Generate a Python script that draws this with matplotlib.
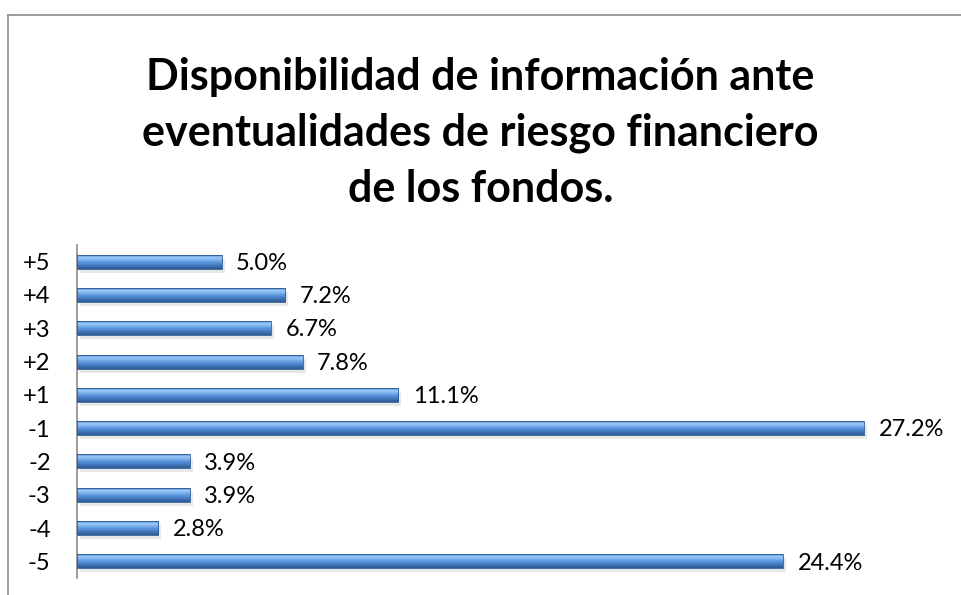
import matplotlib.pyplot as plt
from matplotlib.patches import Rectangle
from matplotlib.lines import Line2D
from matplotlib.colors import LinearSegmentedColormap
import numpy as np

# datos
categorias = ["+5", "+4", "+3", "+2", "+1", "-1", "-2", "-3", "-4", "-5"]
porcentajes = [5.0, 7.2, 6.7, 7.8, 11.1, 27.2, 3.9, 3.9, 2.8, 24.4]
titulo = "Disponibilidad de información ante\neventualidades de riesgo financiero\nde los fondos."

plt.rcParams['font.family'] = ['Lato', 'DejaVu Sans']

fig = plt.figure(figsize=(9.61, 5.95), dpi=100)
W, H = 961, 595

# marco del grafico (sale de la imagen por la derecha y abajo)
fig.add_artist(Line2D([8 / W, 8 / W], [0, 1 - 15 / H], color='#8c8c8c', lw=1.2))
fig.add_artist(Line2D([8 / W, 1], [1 - 15 / H, 1 - 15 / H], color='#8c8c8c', lw=1.2))

fig.text(0.5, 1 - 133 / H, titulo, ha='center', va='center', fontsize=31,
         fontweight='bold', linespacing=1.48)

ax = fig.add_axes([77 / W, 17 / H, 868 / W, 333 / H])
n = len(categorias)
y = np.arange(n)[::-1]

alto = 0.42
# gradiente vertical del relleno
grad = np.linspace(0, 1, 64).reshape(-1, 1)
cmap = LinearSegmentedColormap.from_list(
    'azul', ['#4a80c4', '#9ccaf8', '#80b5ee', '#5e98dc', '#4a84cc', '#3a6cad', '#2d5a92'])

for yi, v in zip(y, porcentajes):
    # sombra
    ax.add_patch(Rectangle((0.1, yi - alto / 2 - 0.12), v, alto, color='#000000',
                           alpha=0.09, lw=0, zorder=1))
    r = Rectangle((0, yi - alto / 2), v, alto, facecolor='none', edgecolor='#2d5a92',
                  lw=0.6, zorder=4)
    ax.add_patch(r)
    im = ax.imshow(grad, cmap=cmap, aspect='auto', extent=(0, v, yi - alto / 2, yi + alto / 2),
                   origin='upper', zorder=3, interpolation='bilinear')
    im.set_clip_path(r)
    ax.text(v + 0.5, yi - 0.05, f"{v:.1f}%", va='center', ha='left', fontsize=17)

ax.set_xlim(0, 30)
ax.set_ylim(-0.5, n - 0.5)
ax.set_yticks(y)
ax.set_yticklabels(categorias, fontsize=17)
ax.tick_params(axis='y', length=0, pad=19)
ax.set_xticks([])
for s in ['top', 'right', 'bottom']:
    ax.spines[s].set_visible(False)
ax.spines['left'].set_color('#8c8c8c')
ax.spines['left'].set_linewidth(1.2)

fig.savefig('out.png', dpi=100)
